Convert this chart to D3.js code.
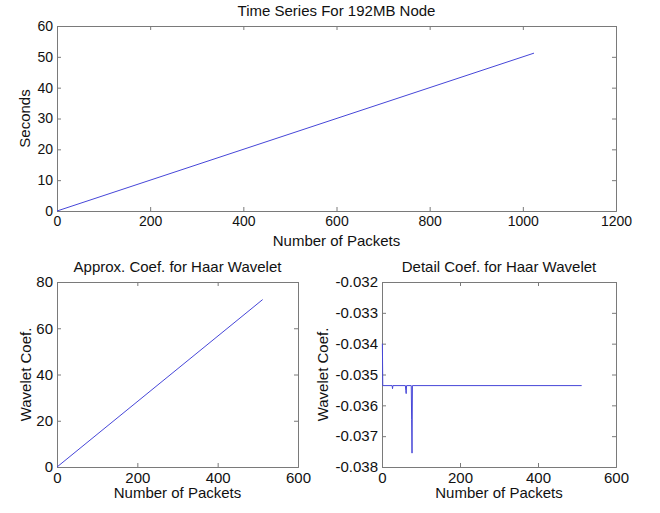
<!DOCTYPE html>
<html>
<head>
<meta charset="utf-8">
<script src="https://cdn.jsdelivr.net/npm/d3@7"></script>
<style>
  html, body { margin: 0; padding: 0; background: #fff; }
  svg { display: block; }
  text { font-family: "Liberation Sans", Arial, sans-serif; fill: #111; }
</style>
</head>
<body>
<script>
// ---- Data ----
const timePackets = [0, 1024];
const timeSeconds = [0, 51.2];

const approxPackets = [0, 512];
const approxCoef = [0, 72.4];

const detailPackets = [1, 2, 26, 27, 28, 60, 61, 62, 63, 75, 76, 77, 78, 512];
const detailCoef = [-0.0340, -0.03536, -0.03536, -0.03546, -0.03536, -0.03536, -0.03552, -0.03562, -0.03536, -0.03536, -0.03645, -0.03755, -0.03536, -0.03536];

const topXTicks = [0, 200, 400, 600, 800, 1000, 1200];
const topYTicks = [0, 10, 20, 30, 40, 50, 60];
const bottomXTicks = [0, 200, 400, 600];
const approxYTicks = [0, 20, 40, 60, 80];
const detailYTicks = [-0.038, -0.037, -0.036, -0.035, -0.034, -0.033, -0.032];

const titles = ["Time Series For 192MB Node", "Approx. Coef. for Haar Wavelet", "Detail Coef. for Haar Wavelet"];
const xLabel = "Number of Packets";
const yLabels = ["Seconds", "Wavelet Coef.", "Wavelet Coef."];

// ---- Drawing ----
const W = 660, H = 513;
const svg = d3.select("body").append("svg").attr("width", W).attr("height", H);
svg.append("rect").attr("width", W).attr("height", H).attr("fill", "#fff");

const lineColor = "#4646d8";
const axisColor = "#7a7a7a";

function panel(cfg) {
  const x = d3.scaleLinear().domain(cfg.xDomain).range([cfg.left, cfg.right]);
  const y = d3.scaleLinear().domain(cfg.yDomain).range([cfg.bottom, cfg.top]);
  const g = svg.append("g");
  const fs = cfg.fontSize;

  const tk = 4;
  const gb = g.append("g").attr("transform", `translate(0,${cfg.bottom})`)
    .call(d3.axisBottom(x).tickValues(cfg.xTicks).tickSize(-tk).tickPadding(5).tickFormat(d3.format("d")));
  const gt = g.append("g").attr("transform", `translate(0,${cfg.top})`)
    .call(d3.axisTop(x).tickValues(cfg.xTicks).tickSize(-tk).tickFormat(""));
  const gl = g.append("g").attr("transform", `translate(${cfg.left},0)`)
    .call(d3.axisLeft(y).tickValues(cfg.yTicks).tickSize(-tk).tickPadding(4).tickFormat(cfg.yFormat));
  const gr = g.append("g").attr("transform", `translate(${cfg.right},0)`)
    .call(d3.axisRight(y).tickValues(cfg.yTicks).tickSize(-tk).tickFormat(""));

  [gb, gt, gl, gr].forEach(a => {
    a.select(".domain").attr("stroke", axisColor);
    a.selectAll(".tick line").attr("stroke", axisColor);
    a.selectAll(".tick text").attr("font-size", fs).attr("fill", "#111")
      .attr("font-family", "Liberation Sans, Arial, sans-serif");
  });

  // data line (drawn above the axes)
  const pts = cfg.xs.map((v, i) => [v, cfg.ys[i]]);
  g.append("path")
    .datum(pts)
    .attr("fill", "none")
    .attr("stroke", lineColor)
    .attr("stroke-width", 1)
    .attr("d", d3.line().x(d => x(d[0])).y(d => y(d[1])));

  g.append("text").attr("x", (cfg.left + cfg.right) / 2).attr("y", cfg.titleY)
    .attr("text-anchor", "middle").attr("font-size", 15).text(cfg.title);
  g.append("text").attr("x", (cfg.left + cfg.right) / 2).attr("y", cfg.xLabelY)
    .attr("text-anchor", "middle").attr("font-size", 15).text(xLabel);
  g.append("text")
    .attr("transform", `translate(${cfg.yLabelX},${(cfg.top + cfg.bottom) / 2}) rotate(-90)`)
    .attr("text-anchor", "middle").attr("font-size", 15).text(cfg.yLabel);
}

panel({
  left: 57, right: 616, top: 26, bottom: 211,
  xDomain: [0, 1200], yDomain: [0, 60],
  xs: timePackets, ys: timeSeconds,
  xTicks: topXTicks, yTicks: topYTicks, yFormat: d3.format("d"),
  fontSize: 14,
  title: titles[0], titleY: 16, xLabelY: 246, yLabel: yLabels[0], yLabelX: 30
});

panel({
  left: 57, right: 298, top: 282, bottom: 467,
  xDomain: [0, 600], yDomain: [0, 80],
  xs: approxPackets, ys: approxCoef,
  xTicks: bottomXTicks, yTicks: approxYTicks, yFormat: d3.format("d"),
  fontSize: 15,
  title: titles[1], titleY: 272, xLabelY: 498, yLabel: yLabels[1], yLabelX: 31
});

panel({
  left: 382, right: 616, top: 282, bottom: 467,
  xDomain: [0, 600], yDomain: [-0.038, -0.032],
  xs: detailPackets, ys: detailCoef,
  xTicks: bottomXTicks, yTicks: detailYTicks, yFormat: d => d.toFixed(3),
  fontSize: 15,
  title: titles[2], titleY: 272, xLabelY: 498, yLabel: yLabels[2], yLabelX: 328
});
</script>
</body>
</html>
